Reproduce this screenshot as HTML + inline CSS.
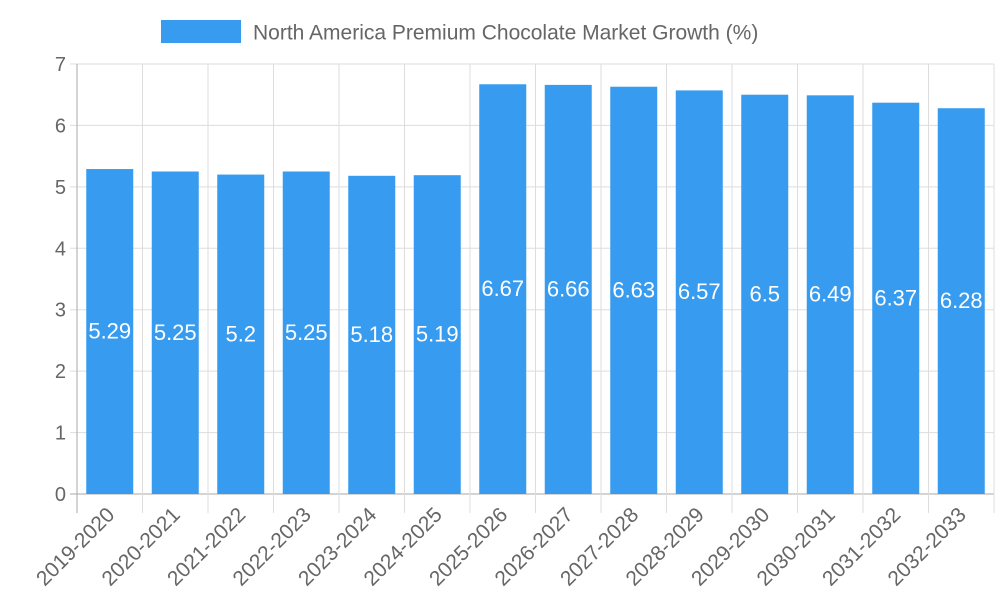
<!DOCTYPE html>
<html><head><meta charset="utf-8"><style>
html,body{margin:0;padding:0;background:#fff;}
svg{display:block;font-family:"Liberation Sans",sans-serif;}
</style></head><body>
<svg id="chart" width="1000" height="600" xmlns="http://www.w3.org/2000/svg">
<g>
<rect x="161" y="20" width="80" height="23" fill="#379bef"/>
<text x="253" y="39.5" font-size="21" fill="#666">North America Premium Chocolate Market Growth (%)</text>
</g>
<g id="grid"></g>
<g id="bars"></g>
<g id="axes"></g>
</svg>
<script>
const categories=["2019-2020","2020-2021","2021-2022","2022-2023","2023-2024","2024-2025","2025-2026","2026-2027","2027-2028","2028-2029","2029-2030","2030-2031","2031-2032","2032-2033"];
const values=[5.29,5.25,5.2,5.25,5.18,5.19,6.67,6.66,6.63,6.57,6.5,6.49,6.37,6.28];
const yTicks=[0,1,2,3,4,5,6,7];
const NS="http://www.w3.org/2000/svg";
const L=77,R=994,T=64,B=494,yMax=7;
const bw=(R-L)/categories.length;
const y=v=>B-(v/yMax)*(B-T);
const xc=i=>L+bw*(i+0.5);
function mk(tag,attrs,parent){const e=document.createElementNS(NS,tag);for(const k in attrs)e.setAttribute(k,attrs[k]);parent.appendChild(e);return e;}
const grid=document.getElementById('grid'),bars=document.getElementById('bars'),axes=document.getElementById('axes');
yTicks.forEach(t=>{
 const l=mk('line',{x1:L-7,x2:R,y1:y(t),y2:y(t),stroke:t===0?'#aaa':'#ddd','stroke-width':1},grid);
 
 
 const tx=mk('text',{x:L-11,y:y(t)+7,'text-anchor':'end','font-size':20,fill:'#666'},axes);
 tx.textContent=t;
 
 
});
for(let i=0;i<=categories.length;i++){
 const x=L+bw*i;
 const l=mk('line',{x1:x,x2:x,y1:T,y2:B+19,stroke:i===0?'#aaa':'#ddd','stroke-width':1},grid);
 
 
}
categories.forEach((c,i)=>{
 const w=47;
 const r=mk('rect',{x:xc(i)-w/2,y:y(values[i]),width:w,height:B-y(values[i]),fill:'#379bef'},bars);
 
 
 const v=mk('text',{x:xc(i),y:(y(values[i])+B)/2+7,'text-anchor':'middle','font-size':22,fill:'#fff'},bars);
 v.textContent=values[i];
 
 
 const t=mk('text',{x:0,y:0,'text-anchor':'end','font-size':21,fill:'#666',transform:`translate(${xc(i)+6},${B+22}) rotate(-45)`},axes);
 t.textContent=c;
 
 
});
</script>
</body></html>
